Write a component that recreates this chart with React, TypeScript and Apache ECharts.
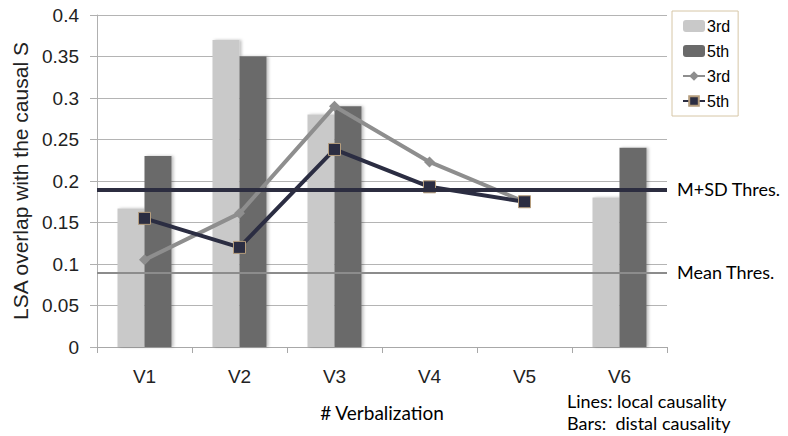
import React, { useEffect, useRef } from "react";
import * as echarts from "echarts";

const categories = ["V1", "V2", "V3", "V4", "V5", "V6"];
const bar3rd: (number | null)[] = [0.167, 0.37, 0.28, null, null, 0.18];
const bar5th: (number | null)[] = [0.23, 0.35, 0.29, null, null, 0.24];
const line3rd: (number | null)[] = [0.105, 0.161, 0.29, 0.223, 0.175, null];
const line5th: (number | null)[] = [0.155, 0.12, 0.238, 0.193, 0.175, null];
const meanThreshold = 0.09;
const mSdThreshold = 0.189;
const legendLabels: Record<string, string> = { bar3: "3rd", bar5: "5th", line3: "3rd", line5: "5th" };
const yTicks = { min: 0, max: 0.4, interval: 0.05 };

export default function App() {
  const ref = useRef<HTMLDivElement>(null);
  useEffect(() => {
    if (!ref.current) return;
    const chart = echarts.init(ref.current, null, { renderer: "svg" });
    const axisFont = "Liberation Sans, Arial, sans-serif";
    const calFont = "Lato, Open Sans, sans-serif";
    chart.setOption({
      animation: false,
      backgroundColor: "#ffffff",
      grid: { left: 97, right: 121, top: 15, bottom: 89, containLabel: false },
      legend: {
        orient: "vertical",
        left: 672,
        top: 11,
        padding: [7, 8, 7, 10],
        borderColor: "#d6c6a6",
        borderWidth: 1,
        itemWidth: 22,
        itemHeight: 12,
        itemGap: 9,
        data: ["bar3", "bar5", "line3", "line5"],
        formatter: (n: string) => legendLabels[n],
        textStyle: { fontFamily: axisFont, fontSize: 16, color: "#000", padding: [0, 0, 0, -3] },
      },
      xAxis: {
        type: "category",
        data: categories,
        axisLine: { lineStyle: { color: "#a8a8a8", width: 1 } },
        axisTick: { show: true, length: 6, lineStyle: { color: "#a8a8a8" } },
        axisLabel: { fontFamily: axisFont, fontSize: 19, color: "#222", margin: 20 },
        name: "# Verbalization",
        nameLocation: "middle",
        nameGap: 56,
        nameTextStyle: { fontFamily: calFont, fontSize: 19, color: "#000" },
      },
      yAxis: {
        type: "value",
        min: yTicks.min,
        max: yTicks.max,
        interval: yTicks.interval,
        axisLine: { show: true, lineStyle: { color: "#b0b0b0" } },
        axisTick: { show: true, length: 7, lineStyle: { color: "#b0b0b0" } },
        splitLine: { lineStyle: { color: "#b4b4b4", width: 1 } },
        axisLabel: {
          fontFamily: axisFont,
          fontSize: 19,
          color: "#222",
          margin: 18,
          formatter: (v: number) => String(Math.round(v * 100) / 100),
        },
        name: "LSA overlap with the causal S",
        nameLocation: "middle",
        nameGap: 66,
        nameTextStyle: { fontFamily: axisFont, fontSize: 21, color: "#222" },
      },
      series: [
        {
          name: "bar3",
          type: "bar",
          data: bar3rd,
          barWidth: 27,
          barGap: "0%",
          itemStyle: { color: "#c9c9c9", shadowColor: "rgba(0,0,0,0.25)", shadowBlur: 3, shadowOffsetX: 2 },
          markLine: {
            silent: true,
            symbol: "none",
            data: [
              { yAxis: mSdThreshold, lineStyle: { color: "#2c2d40", width: 4, type: "solid" }, label: { formatter: "M+SD Thres." } },
              { yAxis: meanThreshold, lineStyle: { color: "#8c8c8c", width: 2, type: "solid" }, label: { formatter: "Mean Thres." } },
            ],
            label: { position: "end", fontFamily: calFont, fontSize: 18, color: "#000", distance: 10 },
          },
        },
        {
          name: "bar5",
          type: "bar",
          data: bar5th,
          barWidth: 27,
          barGap: "0%",
          itemStyle: { color: "#6a6a6a", shadowColor: "rgba(0,0,0,0.25)", shadowBlur: 3, shadowOffsetX: 2 },
        },
        {
          name: "line3",
          type: "line",
          data: line3rd,
          symbol: "diamond",
          symbolSize: 11,
          lineStyle: { color: "#8e8e8e", width: 4 },
          itemStyle: { color: "#8e8e8e" },
          z: 3,
        },
        {
          name: "line5",
          type: "line",
          data: line5th,
          symbol: "rect",
          symbolSize: 12,
          lineStyle: { color: "#2b2d42", width: 4 },
          itemStyle: { color: "#2b2d42", borderColor: "#b59d7d", borderWidth: 1 },
          z: 4,
        },
      ],
      graphic: [
        {
          type: "text",
          left: 567,
          top: 392,
          style: { text: "Lines: local causality", fontFamily: calFont, fontSize: 18, fill: "#000" },
        },
        {
          type: "text",
          left: 567,
          top: 414,
          style: { text: "Bars:  distal causality", fontFamily: calFont, fontSize: 18, fill: "#000" },
        },
      ],
    });
    return () => chart.dispose();
  }, []);
  return <div ref={ref} style={{ width: 788, height: 436, position: "fixed", left: 0, top: 0 }} />;
}
